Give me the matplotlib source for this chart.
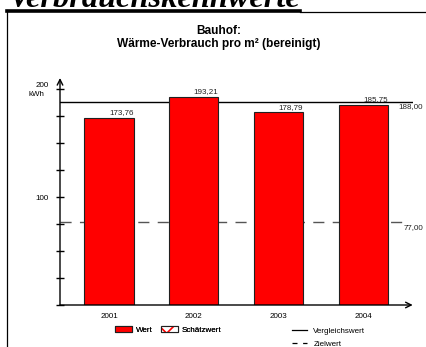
import numpy as np
import matplotlib
matplotlib.use("Agg")
import matplotlib.pyplot as plt
from matplotlib.patches import Patch
from matplotlib.lines import Line2D

# data
years = ["2001", "2002", "2003", "2004"]
values = [173.76, 193.21, 178.79, 185.75]
vergleich = 188.00
ziel = 77.00

plt.rcParams['font.family'] = ['Liberation Sans', 'DejaVu Sans']
plt.rcParams['hatch.color'] = 'red'
plt.rcParams['hatch.linewidth'] = 1.2

W, H = 427, 347
fig = plt.figure(figsize=(W / 100, H / 100), dpi=100)

def fx(px):
    return px / W

def fy(py):
    return 1 - py / H

# page header (cut off at top)
fig.text(fx(8), fy(7), "Verbrauchskennwerte", family="Liberation Serif",
         fontweight="bold", fontstyle="italic", fontsize=23.3, ha="left", va="baseline")
fig.add_artist(Line2D([fx(7), fx(300)], [fy(10.7), fy(10.7)], color="black", lw=2.6))
fig.add_artist(Line2D([fx(300), 1], [fy(11.5), fy(11.5)], color="black", lw=0.9))
fig.add_artist(Line2D([fx(7), fx(7)], [fy(10), 0], color="black", lw=0.9))

# chart title
fig.text(fx(219), fy(37.5), "Bauhof:\nWärme-Verbrauch pro m² (bereinigt)",
         ha="center", va="center", fontsize=8.6, fontweight="bold", linespacing=1.05)

ax = fig.add_axes([fx(60), fy(305), fx(412.7) - fx(60), fy(78) - fy(305)])
x = np.arange(len(years))
bw = 0.58
bars = ax.bar(x, values, width=bw, color="#ff0000", edgecolor="#202020", linewidth=0.8,
              zorder=3)
ax.set_xlim(-0.578, 3.58)
ax.set_ylim(0, 210.5)

ax.axhline(vergleich, color="black", lw=1.0, zorder=2)
ax.plot([-0.578, 3.49], [ziel, ziel], color="#555555", lw=1.0, dashes=(8, 6), zorder=2)

for xi, v in zip(x, values):
    ax.text(xi + bw / 2, v + 1.5, f"{v:.2f}".replace(".", ","), ha="right", va="bottom",
            fontsize=5.8, color="#222222", zorder=4)
ax.text(3.58 - 0.17, vergleich - 1, f"{vergleich:.2f}".replace(".", ","), ha="left", va="top",
        fontsize=5.8, color="#222222", clip_on=False)
ax.text(3.58 - 0.11, ziel - 2, f"{ziel:.2f}".replace(".", ","), ha="left", va="top",
        fontsize=5.8, color="#222222", clip_on=False)

for s in ax.spines.values():
    s.set_visible(False)
ax.annotate("", xy=(0, 1), xytext=(0, 0), xycoords="axes fraction",
            arrowprops=dict(arrowstyle="->", lw=1.0, color="black", shrinkA=0, shrinkB=0))
ax.annotate("", xy=(1, 0), xytext=(0, 0), xycoords="axes fraction",
            arrowprops=dict(arrowstyle="->", lw=1.0, color="black", shrinkA=0, shrinkB=0))

yt = np.arange(0, 201, 25)
ax.set_yticks(yt)
ax.set_yticklabels(["100" if t == 100 else ("200" if t == 200 else "") for t in yt])
ax.tick_params(axis="y", direction="inout", length=6, width=1.0, labelsize=5.8, pad=5)
ax.get_yticklabels()[-1].set_va("bottom")
ax.annotate("kWh", xy=(0, 200), xycoords=("axes fraction", "data"),
            xytext=(-11, -1.5), textcoords="offset points", ha="right", va="top",
            fontsize=5.8)
ax.set_xticks(x)
ax.set_xticklabels(years)
ax.tick_params(axis="x", length=0, labelsize=5.8, pad=6)

hatch_h = (Patch(facecolor="white", edgecolor="red", hatch="x", lw=0),
           Patch(facecolor="none", edgecolor="#202020", lw=0.8))
leg1 = fig.legend(handles=[Patch(facecolor="#ff0000", edgecolor="#202020", lw=0.8), hatch_h],
                  labels=["Wert", "Schätzwert"],
                  ncol=2, loc="center left", bbox_to_anchor=(fx(115), fy(330)),
                  frameon=False, fontsize=5.8, handlelength=2.1, handleheight=0.75,
                  handletextpad=0.45, columnspacing=1.1, borderpad=0, borderaxespad=0)
leg2 = fig.legend(handles=[Line2D([], [], color="black", lw=0.9),
                           Line2D([], [], color="black", lw=0.9, dashes=(4, 4.5))],
                  labels=["Vergleichswert", "Zielwert"],
                  loc="upper left", bbox_to_anchor=(fx(292), fy(327)),
                  frameon=False, fontsize=5.8, handlelength=1.9, handletextpad=0.75,
                  labelspacing=0.7, borderpad=0, borderaxespad=0)
fig.add_artist(leg1)

fig.savefig("out.png", dpi=100)
